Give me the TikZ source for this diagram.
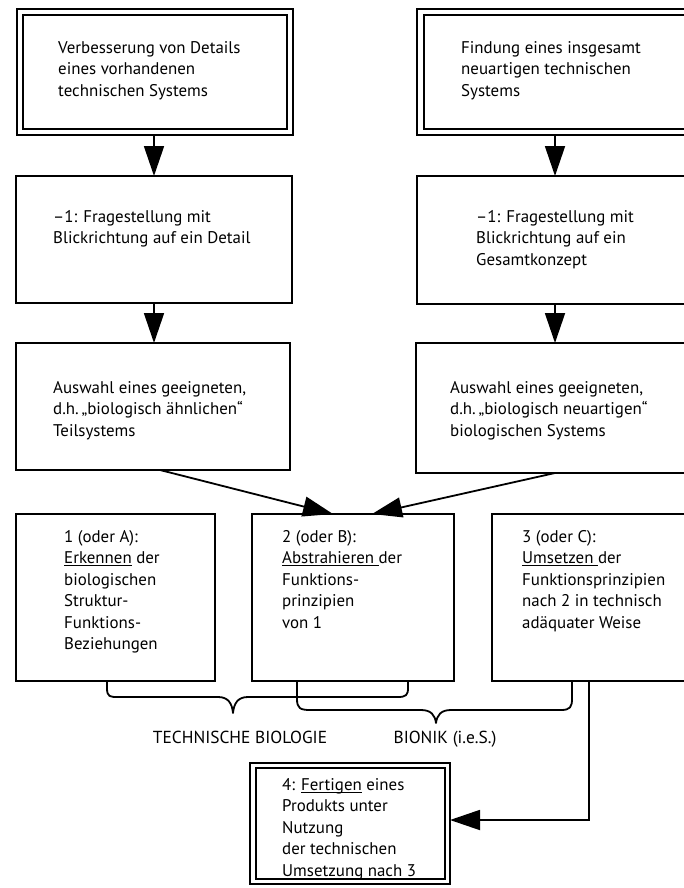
\documentclass[tikz,border=0pt]{standalone}
\usepackage{fontspec}
\setmainfont{PT Sans}
\usetikzlibrary{arrows.meta}
% underline with a heavier rule
\newcommand\undl[1]{\setbox0\hbox{#1}\rlap{\rule[-2.6pt]{\wd0}{1.1pt}}\box0\relax}
% fixed height for the first line of every text block
\newcommand\fl{\rule{0pt}{13pt}}
% box from corner coordinates: name, x1, y1, x2, y2, style
\newcommand\mkbox[6]{%
  \node[#6, minimum width={(#4-#2)*1pt}, minimum height={(#5-#3)*1pt}]
    (#1) at ({(#2+#4)/2},{(#3+#5)/2}) {};}
\begin{document}
\begin{tikzpicture}[x=1pt,y=-1pt,
  frame/.style={draw, line width=1.8pt, inner sep=0pt, outer sep=0pt},
  thinframe/.style={draw, line width=1.5pt, inner sep=0pt, outer sep=0pt},
  label/.style={anchor=north west, inner sep=0pt, align=left,
    font=\fontsize{16.9}{21.5}\selectfont},
  caption/.style={anchor=base, inner sep=0pt, font=\fontsize{17.4}{20}\selectfont},
  arr/.style={line width=1.8pt, -{Triangle[width=20pt,length=30pt]}},
  brace/.style={line width=1.8pt, line cap=round, line join=round}]
\useasboundingbox (0,0) rectangle (684,888);

% top row: double frames (the right column runs past the page edge)
\mkbox{Aout}{17}{9}{293}{135}{thinframe}
\mkbox{A}{23}{15}{287}{129}{frame}
\mkbox{Bout}{417}{9}{696}{135}{thinframe}
\mkbox{B}{424}{15}{690}{129}{frame}
% second and third rows
\mkbox{C}{16}{176}{292}{303}{frame}
\mkbox{D}{417}{176}{692}{304}{frame}
\mkbox{E}{16}{343}{290}{470}{frame}
\mkbox{F}{416}{343}{692}{473}{frame}
% the three steps
\mkbox{G}{16}{514}{215}{681}{frame}
\mkbox{H}{252}{514}{454}{681}{frame}
\mkbox{I}{492}{514}{692}{681}{frame}
% final double frame
\mkbox{Jout}{250}{763}{450}{884}{thinframe}
\mkbox{J}{256}{768}{445}{879}{frame}

% texts
\node[label] (tA) at (58,40) {\fl Verbesserung von Details\\eines vorhandenen\\technischen Systems};
\node[label] (tB) at (461,40) {\fl Findung eines insgesamt\\neuartigen technischen\\Systems};
\node[label] (tC) at (53,209) {\fl –1: Fragestellung mit\\Blickrichtung auf ein Detail};
\node[label] (tD) at (476,209) {\fl –1: Fragestellung mit\\Blickrichtung auf ein\\Gesamtkonzept};
\node[label] (tE) at (53,380) {\fl Auswahl eines geeigneten,\\d.h.\,„biologisch ähnlichen“\\Teilsystems};
\node[label] (tF) at (450,380) {\fl Auswahl eines geeigneten,\\d.h.\,„biologisch neuartigen“\\biologischen Systems};
\node[label] (tG) at (64,529) {\fl 1 (oder A):\\\undl{Erkennen} der\\biologischen\\Struktur-\\Funktions-\\Beziehungen};
\node[label] (tH) at (282,529) {\fl 2 (oder B):\\\undl{Abstrahieren\ }der\\Funktions-\\prinzipien\\von 1};
\node[label] (tI) at (522,529) {\fl 3 (oder C):\\\undl{Umsetzen\ }der\\Funktionsprinzipien\\nach 2 in technisch\\adäquater Weise};
\node[label] (tJ) at (282,777) {\fl 4: \undl{Fertigen} eines\\Produkts unter\\Nutzung\\der technischen\\Umsetzung nach 3};

% connectors
\coordinate (lx) at (154,0);
\coordinate (rx) at (555,0);
\draw[arr] (Aout.south -| lx) -- (C.north -| lx);
\draw[arr] (Bout.south -| rx) -- (D.north -| rx);
\draw[arr] (C.south -| lx) -- (E.north -| lx);
\draw[arr] (D.south -| rx) -- (F.north -| rx);
\draw[arr] ([xshift=7pt]E.south) -- ([xshift=-20pt]H.north);
\draw[arr] (F.south -| rx) -- ([xshift=19pt]H.north);
\draw[arr] ([xshift=-3pt]I.south) |- ([yshift=3.5pt]Jout.east);

% braces
\draw[brace] (107,681) -- (107,688) .. controls (107,697) and (110,697) .. (118,697)
  -- (218,697) .. controls (228,697) and (232,703) .. (233,713)
  .. controls (234,703) and (238,697) .. (248,697)
  -- (398,697) .. controls (406,697) and (408,695) .. (408,688) -- (408,681);
\draw[brace] (297,681) -- (297,699) .. controls (297,708) and (300,710) .. (310,710)
  -- (421,710) .. controls (431,710) and (435,715) .. (436,723)
  .. controls (437,715) and (441,710) .. (451,710)
  -- (561,710) .. controls (570,710) and (572,707) .. (572,699) -- (572,681);
\node[caption] (tb) at (240,743) {TECHNISCHE BIOLOGIE};
\node[caption] (bi) at (445,743) {BIONIK (i.e.S.)};
\end{tikzpicture}
\end{document}
